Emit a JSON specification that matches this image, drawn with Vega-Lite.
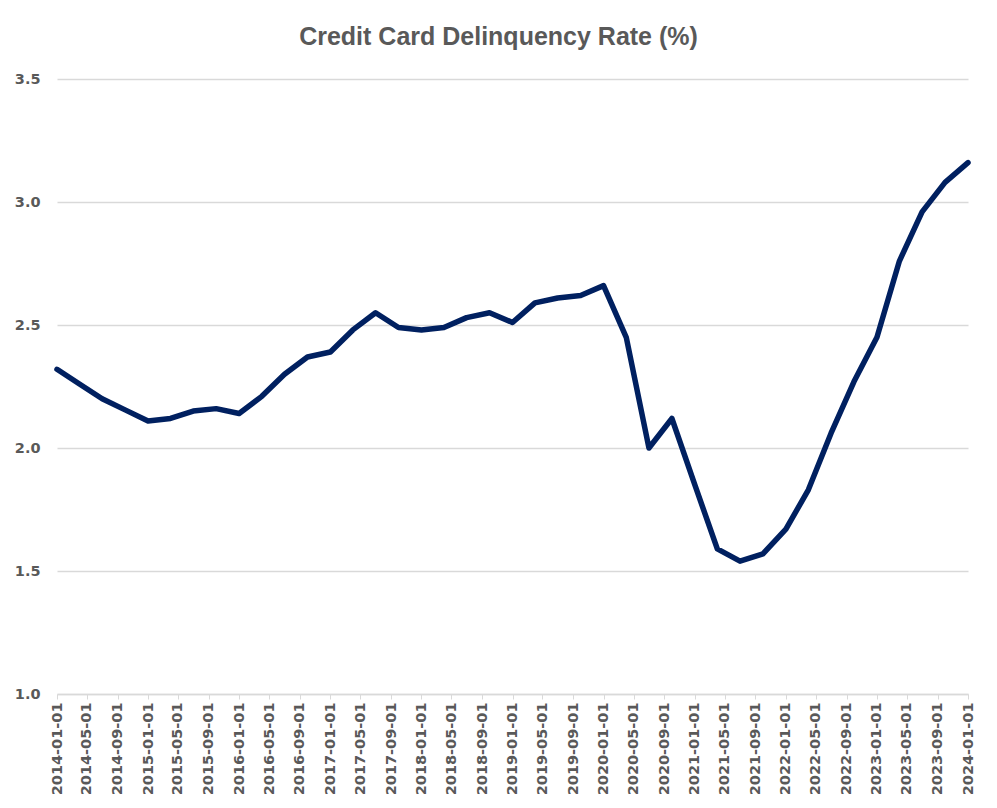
{
  "$schema": "https://vega.github.io/schema/vega-lite/v6.json",
  "width": 911,
  "height": 615,
  "autosize": "none",
  "padding": {"left": 57, "top": 79, "right": 29, "bottom": 114},
  "background": "white",
  "title": {
    "text": "Credit Card Delinquency Rate (%)",
    "frame": "group",
    "anchor": "middle",
    "baseline": "alphabetic",
    "offset": 1,
    "dx": -14,
    "font": "Liberation Sans",
    "fontSize": 25,
    "fontWeight": "bold",
    "color": "#595959"
  },
  "config": {
    "view": {"stroke": null},
    "axis": {
      "labelFont": "DejaVu Sans",
      "labelFontSize": 14.5,
      "labelFontWeight": "bold",
      "labelColor": "#595959",
      "gridColor": "#d9d9d9",
      "gridWidth": 1.3,
      "domainColor": "#d9d9d9",
      "tickColor": "#d9d9d9",
      "title": null
    }
  },
  "data": {
    "values": [
      {"date": "2014-01-01", "rate": 2.32},
      {"date": "2014-04-01", "rate": 2.26},
      {"date": "2014-07-01", "rate": 2.20},
      {"date": "2014-10-01", "rate": 2.155},
      {"date": "2015-01-01", "rate": 2.11},
      {"date": "2015-04-01", "rate": 2.12},
      {"date": "2015-07-01", "rate": 2.15},
      {"date": "2015-10-01", "rate": 2.16},
      {"date": "2016-01-01", "rate": 2.14},
      {"date": "2016-04-01", "rate": 2.21},
      {"date": "2016-07-01", "rate": 2.30},
      {"date": "2016-10-01", "rate": 2.37},
      {"date": "2017-01-01", "rate": 2.39},
      {"date": "2017-04-01", "rate": 2.48},
      {"date": "2017-07-01", "rate": 2.55},
      {"date": "2017-10-01", "rate": 2.49},
      {"date": "2018-01-01", "rate": 2.48},
      {"date": "2018-04-01", "rate": 2.49},
      {"date": "2018-07-01", "rate": 2.53},
      {"date": "2018-10-01", "rate": 2.55},
      {"date": "2019-01-01", "rate": 2.51},
      {"date": "2019-04-01", "rate": 2.59},
      {"date": "2019-07-01", "rate": 2.61},
      {"date": "2019-10-01", "rate": 2.62},
      {"date": "2020-01-01", "rate": 2.66},
      {"date": "2020-04-01", "rate": 2.45},
      {"date": "2020-07-01", "rate": 2.00},
      {"date": "2020-10-01", "rate": 2.12},
      {"date": "2021-01-01", "rate": 1.85},
      {"date": "2021-04-01", "rate": 1.59},
      {"date": "2021-07-01", "rate": 1.54},
      {"date": "2021-10-01", "rate": 1.57},
      {"date": "2022-01-01", "rate": 1.67},
      {"date": "2022-04-01", "rate": 1.83},
      {"date": "2022-07-01", "rate": 2.06},
      {"date": "2022-10-01", "rate": 2.27},
      {"date": "2023-01-01", "rate": 2.45},
      {"date": "2023-04-01", "rate": 2.76},
      {"date": "2023-07-01", "rate": 2.96},
      {"date": "2023-10-01", "rate": 3.08},
      {"date": "2024-01-01", "rate": 3.16}
    ]
  },
  "mark": {"type": "line", "color": "#002060", "strokeWidth": 5.5, "strokeJoin": "round", "strokeCap": "round"},
  "encoding": {
    "x": {
      "field": "date",
      "type": "temporal",
      "scale": {"type": "utc", "domain": ["2014-01-01", "2024-01-01"], "nice": false},
      "axis": {
        "format": "%Y-%m-%d",
        "tickCount": {"interval": "month", "step": 4},
        "labelAngle": -90,
        "labelAlign": "right",
        "labelBaseline": "middle",
        "labelOverlap": false,
        "labelFlush": false,
        "labelBound": false,
        "tickSize": 5,
        "labelPadding": 3,
        "grid": false,
        "domainWidth": 1.3
      }
    },
    "y": {
      "field": "rate",
      "type": "quantitative",
      "scale": {"domain": [1.0, 3.5], "nice": false, "zero": false},
      "axis": {
        "values": [1.0, 1.5, 2.0, 2.5, 3.0, 3.5],
        "format": ".1f",
        "domain": false,
        "ticks": false,
        "labelPadding": 17,
        "grid": true
      }
    }
  }
}
